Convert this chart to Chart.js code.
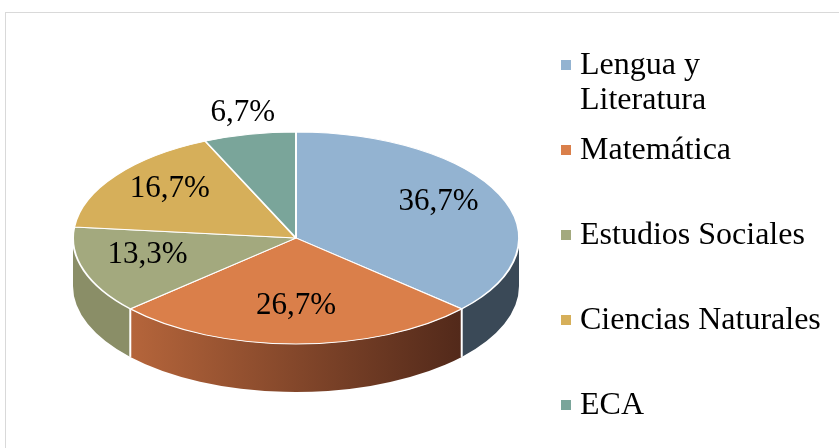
<!DOCTYPE html>
<html>
<head>
<meta charset="utf-8">
<script src="https://cdn.jsdelivr.net/npm/chart.js@4.4.0/dist/chart.umd.min.js"></script>
<style>
  body { margin: 0; background: #fff; overflow: hidden; }
  #marco { position: absolute; left: 5px; top: 12px; width: 900px; height: 500px; border: 1px solid #d9d9d9; }
  #wrap { position: absolute; left: 0; top: 0; width: 839px; height: 448px; }
</style>
</head>
<body>
<div id="marco"></div>
<div id="wrap"><canvas id="miGrafico" width="839" height="448"></canvas></div>
<script>
const categorias = [["Lengua y", "Literatura"], "Matemática", "Estudios Sociales", "Ciencias Naturales", "ECA"]
const valores = [11, 8, 4, 5, 2]
const coloresCara = ["#93b3d1", "#da7f4a", "#a3a97e", "#d6af5a", "#7aa59a"]
const coloresLado = ["#3a4957", "#9c5530", "#8a8e67", "#a8873f", "#5c8177"]

const total = valores.reduce((a, b) => a + b, 0)
const textoPct = v => (v / total * 100).toFixed(1).replace(".", ",") + "%"

const fuente = "Liberation Serif, Times New Roman, serif"
const centroY = 238
const alto = 106
const grosor = 48

const pie3d = {
  id: "pie3d",
  beforeDatasetsDraw(chart) {
    const ctx = chart.ctx
    const arcos = chart.getDatasetMeta(0).data
    const cx = arcos[0].x, cy = arcos[0].y, R = arcos[0].outerRadius
    const ry = alto
    // lado frontal (solo la mitad de abajo se ve)
    arcos.forEach((arco, i) => {
      const s = Math.max(arco.startAngle, 0)
      const e = Math.min(arco.endAngle, Math.PI)
      if (e <= s) return
      ctx.beginPath()
      ctx.ellipse(cx, centroY, R, ry, 0, s, e)
      ctx.ellipse(cx, centroY + grosor, R, ry, 0, e, s, true)
      ctx.closePath()
      if (i === 1) {
        const g = ctx.createLinearGradient(cx + R * Math.cos(e), 0, cx + R * Math.cos(s), 0)
        g.addColorStop(0, "#b5653b")
        g.addColorStop(1, "#52291a")
        ctx.fillStyle = g
      } else {
        ctx.fillStyle = coloresLado[i]
      }
      ctx.fill()
    })
    // lineas blancas entre lados
    ctx.strokeStyle = "#fff"
    ctx.lineWidth = 2
    arcos.forEach(arco => {
      const a = arco.startAngle
      if (a > 0 && a < Math.PI) {
        const x = cx + R * Math.cos(a), y = centroY + ry * Math.sin(a)
        ctx.beginPath()
        ctx.moveTo(x, y)
        ctx.lineTo(x, y + grosor)
        ctx.stroke()
      }
    })
    ctx.save()
    ctx.translate(0, centroY)
    ctx.scale(1, ry / R)
    ctx.translate(0, -cy)
  },
  afterDatasetsDraw(chart) {
    const ctx = chart.ctx
    ctx.restore()
    const arcos = chart.getDatasetMeta(0).data
    const cx = arcos[0].x, R = arcos[0].outerRadius
    ctx.save()
    ctx.font = "31px " + fuente
    ctx.fillStyle = "#000"
    ctx.textAlign = "center"
    ctx.textBaseline = "middle"
    arcos.forEach((arco, i) => {
      const m = (arco.startAngle + arco.endAngle) / 2
      const f = valores[i] / total < 0.1 ? 1.15 : 0.7
      const x = cx + R * f * Math.cos(m)
      const y = centroY - 6 + alto * f * Math.sin(m)
      ctx.fillText(textoPct(valores[i]), x, y)
    })
    ctx.restore()
  },
  afterDraw(chart) {
    // leyenda a la derecha
    const ctx = chart.ctx
    ctx.save()
    ctx.font = "32px " + fuente
    ctx.textBaseline = "alphabetic"
    let y = 74
    categorias.forEach((cat, i) => {
      const lineas = Array.isArray(cat) ? cat : [cat]
      ctx.fillStyle = coloresCara[i]
      ctx.fillRect(561, y - 14, 10, 10)
      ctx.fillStyle = "#000"
      lineas.forEach((l, j) => ctx.fillText(l, 580, y + j * 35))
      y += 85
    })
    ctx.restore()
  }
}

new Chart(document.getElementById("miGrafico"), {
  type: "pie",
  data: {
    labels: categorias,
    datasets: [{
      data: valores,
      backgroundColor: coloresCara,
      borderColor: "#ffffff",
      borderWidth: 2,
      clip: false
    }]
  },
  options: {
    responsive: false,
    animation: false,
    events: [],
    layout: { padding: { left: 72, right: 319, top: 0, bottom: 0 } },
    plugins: {
      legend: { display: false },
      tooltip: { enabled: false }
    }
  },
  plugins: [pie3d]
})
</script>
</body>
</html>
